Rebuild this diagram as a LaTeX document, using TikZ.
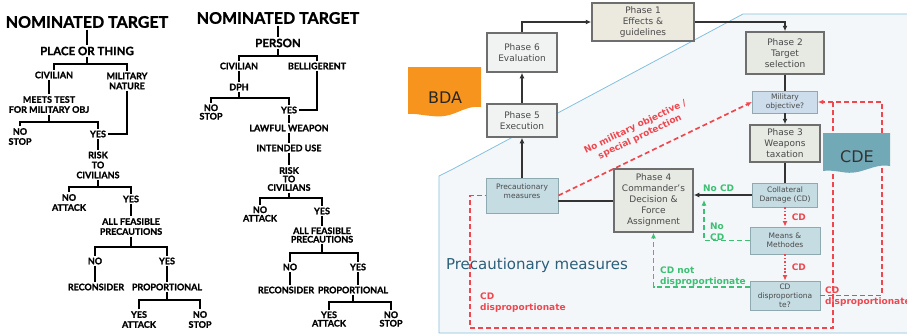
\documentclass[tikz,border=0pt]{standalone}
\usepackage{fontspec}
\usetikzlibrary{arrows.meta}
\newfontfamily\treefont{Lato}[BoldFeatures={FakeBold=1.2}]
\newfontfamily\dvfont{DejaVu Sans}
\definecolor{pOnefill}{HTML}{ECE9DF}
\definecolor{greyfill}{HTML}{F1F2F2}
\definecolor{phasefill}{HTML}{E6EAE3}
\definecolor{mofill}{HTML}{CDDDEB}
\definecolor{smallfill}{HTML}{C4DCE2}
\definecolor{boxedge}{HTML}{6E6E6E}
\definecolor{smalledge}{HTML}{8FA9B1}
\definecolor{conncol}{HTML}{333333}
\definecolor{txtgrey}{HTML}{4A4A4A}
\definecolor{myred}{HTML}{F0474F}
\definecolor{mygreen}{HTML}{3CC073}
\definecolor{regionfill}{HTML}{F4F7F9}
\definecolor{regionline}{HTML}{86C0DF}
\definecolor{bdacol}{HTML}{F7941D}
\definecolor{cdecol}{HTML}{72A9B7}
\definecolor{ptext}{HTML}{2B5F7A}
\begin{document}
\begin{tikzpicture}[x=1pt,y=-1pt,
  tt/.style={font=\treefont\bfseries\fontsize{16}{18}\selectfont, inner sep=1.5pt},
  tm/.style={font=\treefont\bfseries\fontsize{11.5}{13}\selectfont, inner sep=1.5pt},
  tl/.style={font=\treefont\bfseries\fontsize{9}{10}\selectfont, align=center, inner sep=1.5pt},
  tlt/.style={font=\treefont\bfseries\fontsize{9}{8.5}\selectfont, align=center, inner sep=1.5pt},
  tline/.style={line width=1.4pt, draw=black},
  phase/.style={draw=boxedge, line width=1.5pt, fill=phasefill, font=\dvfont\fontsize{9}{11}\selectfont, text=txtgrey, align=center, inner sep=0pt},
  smallbox/.style={draw=smalledge, line width=0.9pt, fill=smallfill, font=\dvfont\fontsize{7.5}{9}\selectfont, text=txtgrey, align=center, inner sep=0pt},
  conn/.style={line width=2pt, draw=conncol},
  arr/.style={-{Latex[length=5.5pt,width=5pt]}},
  reddash/.style={draw=myred, line width=1.7pt, dash pattern=on 5pt off 3pt},
  reddot/.style={draw=myred, line width=1.7pt, dash pattern=on 1.6pt off 1.8pt},
  greendash/.style={draw=mygreen, line width=1.7pt, dash pattern=on 5pt off 3pt},
  rlab/.style={font=\dvfont\bfseries\fontsize{9}{11}\selectfont, text=myred, align=left, inner sep=0pt},
  glab/.style={font=\dvfont\bfseries\fontsize{9}{11}\selectfont, text=mygreen, align=left, inner sep=0pt}
]
\useasboundingbox (0,0) rectangle (907,335);
\fill[white] (0,0) rectangle (907,335);

% ---------------- Tree 1 ----------------
\node[tt] (t1) at (87,22) {NOMINATED TARGET};
\node[tm] (place) at (87,51) {PLACE OR THING};
\node[tl] (civ1) at (54,75) {CIVILIAN};
\node[tl] (mil1) at (127,81) {MILITARY\\NATURE};
\node[tl] (meets) at (49,104.5) {MEETS TEST\\FOR MILITARY OBJ};
\node[tl] (nostop1) at (20,136.5) {NO\\STOP};
\node[tl] (yes1) at (98,134) {YES};
\node[tl] (risk1) at (98,165) {RISK\\TO\\CIVILIANS};
\node[tl] (noatk1) at (69,202.5) {NO\\ATTACK};
\node[tl] (yes2) at (131,199) {YES};
\node[tl] (afp1) at (131,226.5) {ALL FEASIBLE\\PRECAUTIONS};
\node[tl] (no3) at (95,261) {NO};
\node[tl] (yes3) at (167,261) {YES};
\node[tl] (recon1) at (96,287) {RECONSIDER};
\node[tl] (prop1) at (167,287) {PROPORTIONAL};
\node[tl] (yatk1) at (139,319.5) {YES\\ATTACK};
\node[tl] (nstop2) at (200,319.5) {NO\\STOP};

\draw[tline] (t1.south) -- (place.north);
\draw[tline] (place.south) -- (place.south |- 0,64);
\draw[tline] (civ1.north) -- (civ1.north |- 0,64) -- (mil1.north |- 0,64) -- (mil1.north);
\draw[tline] (meets.north |- civ1.south) -- (meets.north);
\draw[tline] (meets.south) -- (meets.south |- 0,122);
\draw[tline] (nostop1.north) -- (nostop1.north |- 0,122) -- (yes1.north |- 0,122) -- (yes1.north);
\draw[tline] (mil1.south) |- (yes1.east);
\draw[tline] (yes1.south) -- (risk1.north);
\draw[tline] (risk1.south) -- (risk1.south |- 0,187);
\draw[tline] (noatk1.north) -- (noatk1.north |- 0,187) -- (yes2.north |- 0,187) -- (yes2.north);
\draw[tline] (yes2.south) -- (afp1.north);
\draw[tline] (afp1.south) -- (afp1.south |- 0,247);
\draw[tline] (no3.north) -- (no3.north |- 0,247) -- (yes3.north |- 0,247) -- (yes3.north);
\draw[tline] (no3.south) -- (no3.south |- recon1.north);
\draw[tline] (yes3.south) -- (prop1.north);
\draw[tline] (prop1.south) -- (prop1.south |- 0,300);
\draw[tline] (yatk1.north) -- (yatk1.north |- 0,300) -- (nstop2.north |- 0,300) -- (nstop2.north);

% ---------------- Tree 2 ----------------
\node[tt] (t2) at (278,18) {NOMINATED TARGET};
\node[tm] (person) at (278,43) {PERSON};
\node[tl] (civ2) at (239,66) {CIVILIAN};
\node[tl] (bel) at (317,66) {BELLIGERENT};
\node[tl] (dph) at (239,87) {DPH};
\node[tlt] (nostop3) at (211,112) {NO\\STOP};
\node[tl] (yes4) at (289,110) {YES};
\node[tl] (lawful) at (289,128) {LAWFUL WEAPON};
\node[tl] (intended) at (289,148) {INTENDED USE};
\node[tlt] (risk2) at (289,179) {RISK\\TO\\CIVILIANS};
\node[tlt] (noatk2) at (260,214) {NO\\ATTACK};
\node[tl] (yes5) at (322,211) {YES};
\node[tlt] (afp2) at (322,235) {ALL FEASIBLE\\PRECAUTIONS};
\node[tl] (no4) at (290,267) {NO};
\node[tl] (yes6) at (358,267) {YES};
\node[tl] (recon2) at (286,290) {RECONSIDER};
\node[tl] (prop2) at (353,290) {PROPORTIONAL};
\node[tlt] (yatk2) at (329,319) {YES\\ATTACK};
\node[tlt] (nstop4) at (391,319) {NO\\STOP};

\draw[tline] (t2.south) -- (person.north);
\draw[tline] (person.south) -- (person.south |- 0,56);
\draw[tline] (civ2.north) -- (civ2.north |- 0,56) -- (bel.north |- 0,56) -- (bel.north);
\draw[tline] (civ2.south) -- (dph.north);
\draw[tline] (dph.south) -- (dph.south |- 0,98);
\draw[tline] (nostop3.north) -- (nostop3.north |- 0,98) -- (yes4.north |- 0,98) -- (yes4.north);
\draw[tline] (bel.south) |- (yes4.east);
\draw[tline] (yes4.south) -- (lawful.north);
\draw[tline] (lawful.south) -- (intended.north);
\draw[tline] (intended.south) -- (risk2.north);
\draw[tline] (risk2.south) -- (risk2.south |- 0,198);
\draw[tline] (noatk2.north) -- (noatk2.north |- 0,198) -- (yes5.north |- 0,198) -- (yes5.north);
\draw[tline] (yes5.south) -- (afp2.north);
\draw[tline] (afp2.south) -- (afp2.south |- 0,253);
\draw[tline] (no4.north) -- (no4.north |- 0,253) -- (yes6.north |- 0,253) -- (yes6.north);
\draw[tline] (no4.south) -- (no4.south |- recon2.north);
\draw[tline] (yes6.south) -- (yes6.south |- prop2.north);
\draw[tline] (prop2.south) -- (prop2.south |- 0,302);
\draw[tline] (yatk2.north) -- (yatk2.north |- 0,302) -- (nstop4.north |- 0,302) -- (nstop4.north);

% ---------------- Right panel ----------------
\fill[regionfill] (439,333) -- (439,176) -- (453,169) -- (743,14) -- (907,14) -- (907,333) -- cycle;
\draw[regionline, line width=0.8pt] (907,333) -- (439,333) -- (439,176) -- (453,169) -- (743,14) -- (907,14);

\node[font=\dvfont\fontsize{15}{18}\selectfont, text=ptext] (pmtitle) at (537,265) {Precautionary measures};

\node[phase, fill=pOnefill, minimum width=102, minimum height=38] (p1) at (643,22) {Phase 1\\Effects \&\\guidelines};
\node[phase, fill=greyfill, minimum width=70, minimum height=39] (p6) at (522,52.5) {Phase 6\\Evaluation};
\node[phase, fill=greyfill, minimum width=70, minimum height=33] (p5) at (522,120.5) {Phase 5\\Execution};
\node[phase, minimum width=78, minimum height=42] (p2) at (785,53) {Phase 2\\Target\\selection};
\node[smallbox, fill=mofill, minimum width=65, minimum height=22] (mo) at (785,102) {Military\\objective?};
\node[phase, minimum width=70, minimum height=37] (p3) at (785,143.5) {Phase 3\\Weapons\\taxation};
\node[smallbox, minimum width=72, minimum height=35] (pm) at (522,195.5) {Precautionary\\measures\\~};
\node[phase, minimum width=79, minimum height=63] (p4) at (653.5,200.5) {Phase 4\\Commander’s\\Decision \&\\Force\\Assignment};
\node[smallbox, minimum width=65, minimum height=24] (cd) at (785,195) {Collateral\\Damage (CD)};
\node[smallbox, minimum width=70, minimum height=27] (mm) at (785,240.5) {Means \&\\Methodes};
\node[smallbox, minimum width=70, minimum height=29] (cdd) at (785,295.5) {CD\\disproportiona\\te?};

% solid connectors
\draw[conn,arr] (p5.north) -- (p6.south);
\draw[conn,arr] (p6.north) |- (p1.west);
\draw[conn,arr] (p1.east) -| (p2.north);
\draw[conn] (p2.south) -- (mo.north);
\draw[conn,arr] (mo.south) -- (p3.north);
\draw[conn] (p3.south) -- (cd.north);
\draw[conn,arr] (cd.west) -- (cd.west -| p4.east);
\draw[conn] (p4.west) -- (p4.west -| pm.east);
\draw[conn,arr] (pm.north) -- (p5.south);

% red connectors
\coordinate (rx) at (882,0);
\coordinate (vx) at (833,0);
\coordinate (bl) at (470,328);
\draw[reddash,arr] (pm.east) -- (mo.west)
  node[rlab, align=center, pos=0.46, sloped, above=12pt] {No military objective /\\special protection};
\draw[reddot,arr] (cd.south) -- (mm.north) node[rlab, midway, right=6pt] {CD};
\draw[reddot,arr] (mm.south) -- (cdd.north) node[rlab, midway, right=6pt] {CD};
\draw[reddash,arr] (cdd.east) -| (rx |- mo.east) -- (mo.east);
\draw[reddash] (vx |- mo.east) -- (vx |- bl) -- (bl) |- (pm.west);

% green connectors
\coordinate (gx) at (704,200);
\coordinate (gy) at (0,287);
\draw[greendash,arr] (mm.west) -| (gx);
\draw[greendash,arr] (cdd.west |- gy) -| (p4.south);

% labels
\node[glab, anchor=west] (nocdA) at (703,188) {No CD};
\node[glab, anchor=west] (nocdB) at (710,231.5) {No\\CD};
\node[glab, anchor=west] (cdnot) at (660,277) {CD not\\disproportionate};
\node[rlab, anchor=west] (cddl) at (480,302.5) {CD\\disproportionate};
\node[rlab, anchor=west] (cddr) at (825,297) {CD\\disproportionate};

% BDA and CDE shapes
\fill[bdacol] (408,67) -- (481,67) -- (481,107) .. controls (462,105) and (455,119) .. (432,116) .. controls (420,115) and (413,113) .. (408,114) -- cycle;
\node[font=\dvfont\fontsize{16}{18}\selectfont, text=black!85] (bda) at (445,98) {BDA};
\fill[cdecol] (823,133) -- (890,133) -- (890,166) .. controls (872,163) and (862,176) .. (842,172) .. controls (834,171) and (828,170) .. (823,171) -- cycle;
\node[font=\dvfont\fontsize{16}{18}\selectfont, text=black!80] (cde) at (857,157) {CDE};
\end{tikzpicture}
\end{document}
